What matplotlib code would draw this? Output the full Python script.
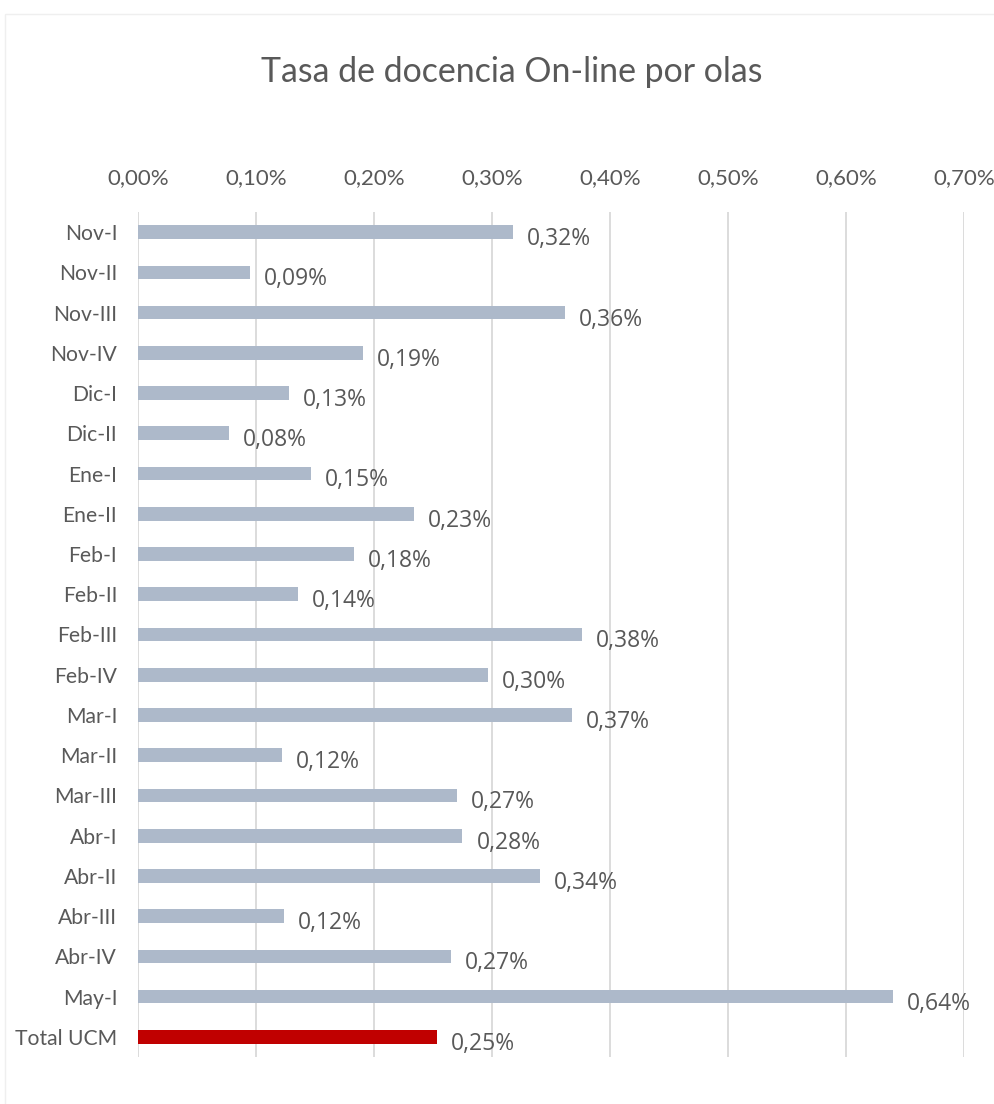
import matplotlib.pyplot as plt
from matplotlib.patches import Rectangle
from matplotlib.ticker import FuncFormatter
import numpy as np

olas = ['Nov-I', 'Nov-II', 'Nov-III', 'Nov-IV', 'Dic-I', 'Dic-II', 'Ene-I',
        'Ene-II', 'Feb-I', 'Feb-II', 'Feb-III', 'Feb-IV', 'Mar-I', 'Mar-II',
        'Mar-III', 'Abr-I', 'Abr-II', 'Abr-III', 'Abr-IV', 'May-I', 'Total UCM']
tasa = [0.318, 0.095, 0.362, 0.191, 0.128, 0.077, 0.147, 0.234, 0.183, 0.136,
        0.376, 0.297, 0.368, 0.122, 0.270, 0.275, 0.341, 0.124, 0.265, 0.640,
        0.253]
etiquetas = ['0,32%', '0,09%', '0,36%', '0,19%', '0,13%', '0,08%', '0,15%',
             '0,23%', '0,18%', '0,14%', '0,38%', '0,30%', '0,37%', '0,12%',
             '0,27%', '0,28%', '0,34%', '0,12%', '0,27%', '0,64%', '0,25%']

gris = '#ADB9CA'
rojo = '#C00000'
texto = '#595959'

fig = plt.figure(figsize=(9.95, 11.04), dpi=100)
# marco tenue del gráfico
fig.patches.append(Rectangle((5 / 995, -0.05), 1.1, 1 - 14 / 1104 + 0.05,
                             transform=fig.transFigure, fill=False,
                             edgecolor='#EFEFEF', linewidth=1))
ax = fig.add_axes([138 / 995, 1 - 1057 / 1104, (964 - 138) / 995, (1057 - 212) / 1104])

y = np.arange(len(olas))
colores = [gris] * (len(olas) - 1) + [rojo]
ax.barh(y, tasa, height=0.34, color=colores, zorder=3)

for yi, v, lab in zip(y, tasa, etiquetas):
    ax.annotate(lab, (v, yi), xytext=(10, -5), textcoords='offset points',
                va='center', ha='left', fontsize=16.5, color=texto,
                family=['Open Sans', 'DejaVu Sans'])

ax.set_xlim(0, 0.70)
ax.set_ylim(len(olas) - 0.5, -0.5)
ax.set_xticks(np.arange(0, 0.71, 0.10))
ax.xaxis.set_major_formatter(FuncFormatter(lambda v, p: f'{v:.2f}%'.replace('.', ',')))
ax.xaxis.tick_top()
ax.set_yticks(y)
ax.set_yticklabels(olas)
ax.tick_params(axis='x', length=0, pad=17, labelsize=16, colors=texto)
ax.tick_params(axis='y', length=0, pad=15, labelsize=15.2, colors=texto)
for t in ax.get_xticklabels() + ax.get_yticklabels():
    t.set_family(['Lato', 'DejaVu Sans'])
ax.grid(axis='x', color='#D9D9D9', linewidth=1.3, zorder=0)
for s in ax.spines.values():
    s.set_visible(False)

fig.text(512 / 995, 1 - 72 / 1104, 'Tasa de docencia On-line por olas',
         ha='center', va='center', fontsize=24.4, color=texto,
         family=['Lato', 'DejaVu Sans'])

fig.savefig('out.png', dpi=100)
